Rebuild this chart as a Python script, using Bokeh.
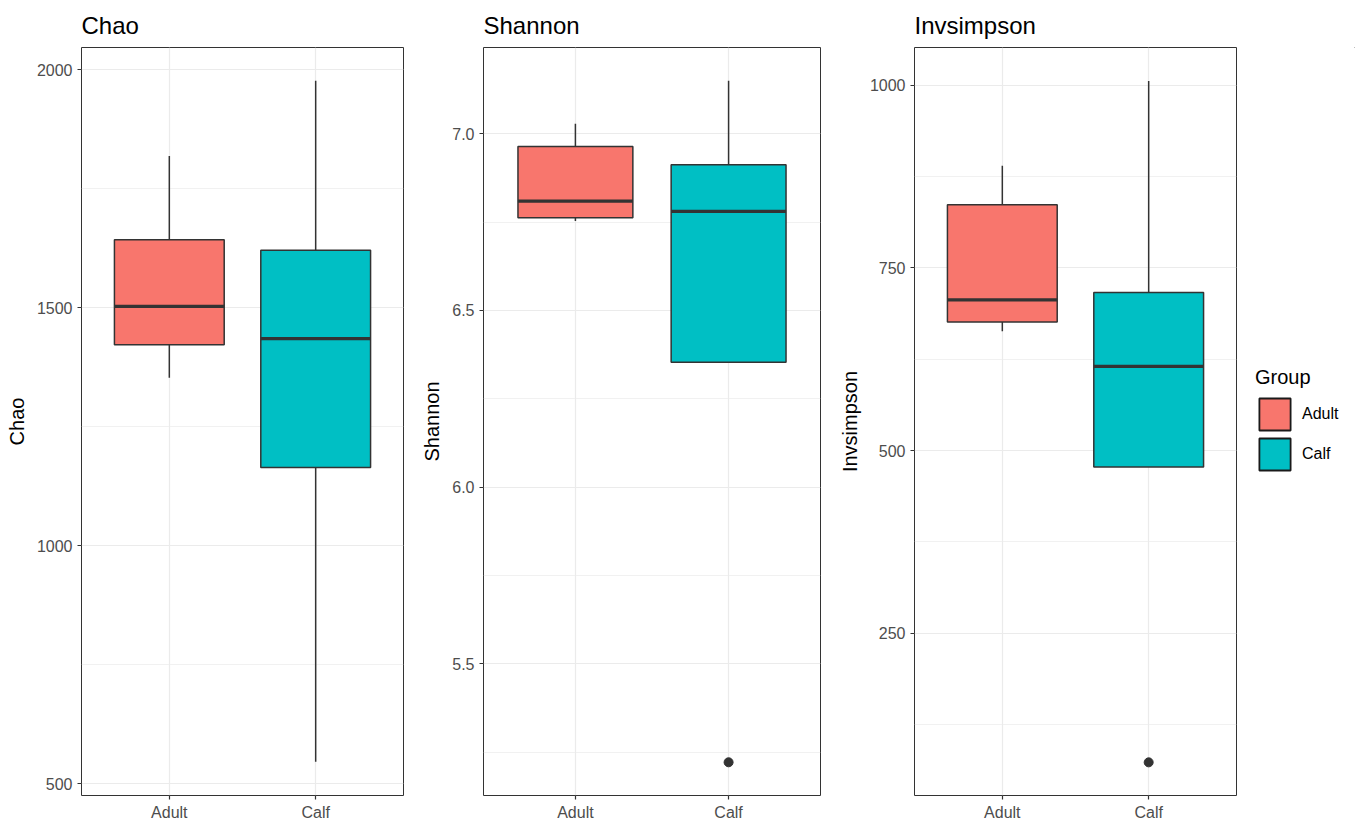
from bokeh.plotting import figure
from bokeh.layouts import row
from bokeh.models import (Range1d, FixedTicker, PrintfTickFormatter, Legend,
                          LegendItem, ColumnDataSource)
from bokeh.core.properties import value
from bokeh.embed import file_html
from bokeh.resources import INLINE

# ---------------- data ----------------
groups = ["Adult", "Calf"]
group_colors = ["#F8766D", "#00BFC4"]

chao_lower = [1353, 546]
chao_q1 = [1422, 1164]
chao_median = [1503, 1435]
chao_q3 = [1643, 1621]
chao_upper = [1819, 1977]
chao_out_group = []
chao_out_value = []

shannon_lower = [6.753, 6.353]
shannon_q1 = [6.762, 6.353]
shannon_median = [6.809, 6.780]
shannon_q3 = [6.964, 6.912]
shannon_upper = [7.028, 7.150]
shannon_out_group = ["Calf"]
shannon_out_value = [5.221]

inv_lower = [663.4, 477.3]
inv_q1 = [675.9, 477.3]
inv_median = [706.3, 615.3]
inv_q3 = [836.7, 716.3]
inv_upper = [889.9, 1005.9]
inv_out_group = ["Calf"]
inv_out_value = [73.0]

chao_ticks = [500, 1000, 1500, 2000]
chao_minor = [750, 1250, 1750]
shannon_ticks = [5.5, 6.0, 6.5, 7.0]
shannon_minor = [5.25, 5.75, 6.25, 6.75, 7.25]
inv_ticks = [250, 500, 750, 1000]
inv_minor = [125, 375, 625, 875]

FONT = "Liberation Sans"
DARK = "#333333"
GRID = "#EBEBEB"
BOX_W = 0.75
FIG_H = 823
B_TOP = 47
B_BOT = 25


def make_panel(title, ylabel, lower, q1, med, q3, upper, out_g, out_v,
               yrange, ticks, minor, width, left, right, fmt=None):
    pos = {g: i + 1 for i, g in enumerate(groups)}
    xs = [pos[g] for g in groups]
    p = figure(width=width, height=FIG_H, x_range=Range1d(0.4, 2.6),
               y_range=Range1d(*yrange), output_backend="svg",
               toolbar_location=None, min_border_left=left,
               min_border_right=right, min_border_top=B_TOP,
               min_border_bottom=B_BOT, title=title)
    p.background_fill_color = "white"
    p.border_fill_color = "white"
    p.outline_line_color = DARK
    p.outline_line_width = 1

    p.title.text_font = FONT
    p.title.text_font_size = "24px"
    p.title.text_font_style = "normal"
    p.title.text_color = "black"
    p.title.align = "left"
    p.title.standoff = 17

    p.yaxis.ticker = FixedTicker(ticks=ticks, minor_ticks=minor)
    p.xaxis.ticker = FixedTicker(ticks=xs)
    p.xaxis.major_label_overrides = {pos[g]: g for g in groups}
    if fmt:
        p.yaxis.formatter = PrintfTickFormatter(format=fmt)

    for ax in p.axis:
        ax.axis_line_color = None
        ax.major_tick_line_color = DARK
        ax.major_tick_line_width = 1.2
        ax.major_tick_out = 4
        ax.major_tick_in = 0
        ax.minor_tick_line_color = None
        ax.major_label_text_font = FONT
        ax.major_label_text_font_size = "16px"
        ax.major_label_text_color = "#4D4D4D"
    p.yaxis.major_label_standoff = 5
    p.xaxis.major_label_standoff = 4
    p.yaxis.axis_label = ylabel
    p.yaxis.axis_label_text_font = FONT
    p.yaxis.axis_label_text_font_size = "20px"
    p.yaxis.axis_label_text_font_style = "normal"
    p.yaxis.axis_label_text_color = "black"
    p.yaxis.axis_label_standoff = 6

    p.xgrid.grid_line_color = GRID
    p.xgrid.grid_line_width = 1.2
    p.ygrid.grid_line_color = GRID
    p.ygrid.grid_line_width = 1.2
    p.ygrid.minor_grid_line_color = GRID
    p.ygrid.minor_grid_line_width = 0.7

    for i, g in enumerate(groups):
        x = pos[g]
        src = ColumnDataSource(dict(x=[x], lower=[lower[i]], q1=[q1[i]],
                                    med=[med[i]], q3=[q3[i]], upper=[upper[i]],
                                    xl=[x - BOX_W / 2], xr=[x + BOX_W / 2]))
        p.segment(x0="x", y0="q3", x1="x", y1="upper", source=src,
                  line_color=DARK, line_width=1.5)
        p.segment(x0="x", y0="q1", x1="x", y1="lower", source=src,
                  line_color=DARK, line_width=1.5)
        p.vbar(x="x", width=BOX_W, bottom="q1", top="q3", source=src,
               fill_color=group_colors[i], line_color=DARK, line_width=1.5)
        p.segment(x0="xl", y0="med", x1="xr", y1="med", source=src,
                  line_color=DARK, line_width=3.2)
    if out_g:
        p.scatter(x=[pos[g] for g in out_g], y=out_v, size=9,
                  fill_color=DARK, line_color=DARK)
    return p


p1 = make_panel("Chao", "Chao", chao_lower, chao_q1, chao_median, chao_q3,
                chao_upper, chao_out_group, chao_out_value, (474.8, 2047),
                chao_ticks, chao_minor, 416, 81, 13)
p2 = make_panel("Shannon", "Shannon", shannon_lower, shannon_q1,
                shannon_median, shannon_q3, shannon_upper, shannon_out_group,
                shannon_out_value, (5.127, 7.244), shannon_ticks,
                shannon_minor, 418, 67, 14, fmt="%.1f")
p3 = make_panel("Invsimpson", "Invsimpson", inv_lower, inv_q1, inv_median,
                inv_q3, inv_upper, inv_out_group, inv_out_value, (27.6, 1051.9),
                inv_ticks, inv_minor, 412, 80, 10)

# ---------------- legend panel ----------------
LEG_W = 1355 - 416 - 418 - 412
pl = figure(width=LEG_W, height=FIG_H, x_range=Range1d(0, 1),
            y_range=Range1d(0, 1), output_backend="svg",
            toolbar_location=None, min_border=0)
pl.axis.visible = False
pl.grid.visible = False
pl.outline_line_color = None
pl.background_fill_color = "white"
pl.border_fill_color = "white"
items = []
for i, g in enumerate(groups):
    r = pl.vbar(x=[5], width=0.5, bottom=[5], top=[6],
                fill_color=group_colors[i], line_color="#1A1A1A",
                line_width=1.8)
    items.append(LegendItem(label=value(g), renderers=[r]))
lg = Legend(items=items, title="Group", location=(9, 321))
lg.title_text_font = FONT
lg.title_text_font_size = "20px"
lg.title_text_font_style = "normal"
lg.title_text_color = "black"
lg.title_standoff = 5
lg.label_text_font = FONT
lg.label_text_font_size = "16px"
lg.label_text_color = "black"
lg.glyph_width = 39
lg.glyph_height = 40
lg.spacing = 0
lg.padding = 0
lg.margin = 0
lg.label_standoff = 8
lg.border_line_color = None
lg.background_fill_alpha = 0
pl.add_layout(lg)

layout = row(p1, p2, p3, pl)
open("out.html", "w").write(file_html(layout, INLINE))
